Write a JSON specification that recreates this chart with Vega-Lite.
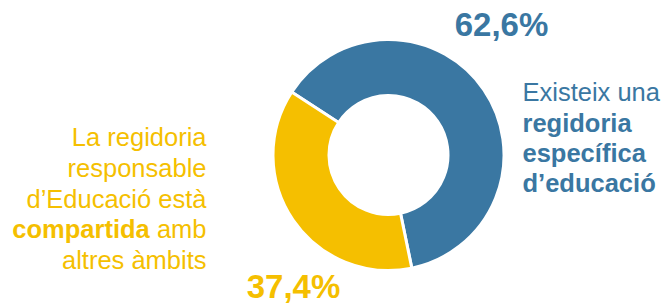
{
  "$schema": "https://vega.github.io/schema/vega-lite/v6.json",
  "width": 557,
  "height": 302,
  "autosize": {"type": "none"},
  "padding": {"left": 110, "top": 4, "right": 0, "bottom": 0},
  "background": "white",
  "config": {"view": {"stroke": null}, "font": "Liberation Sans"},
  "datasets": {
    "dades": [
      {"categoria": "Existeix una regidoria específica d’educació", "valor": 62.6, "pct": "62,6%"},
      {"categoria": "La regidoria responsable d’Educació està compartida amb altres àmbits", "valor": 37.4, "pct": "37,4%"}
    ]
  },
  "data": {"name": "dades"},
  "layer": [
    {
      "mark": {"type": "arc", "innerRadius": 59.5, "outerRadius": 115.5, "stroke": "white", "strokeWidth": 3},
      "encoding": {
        "theta": {"field": "valor", "type": "quantitative", "stack": true, "scale": {"range": [-0.9948, 5.2884]}},
        "color": {
          "field": "categoria", "type": "nominal", "legend": null,
          "scale": {
            "domain": ["Existeix una regidoria específica d’educació", "La regidoria responsable d’Educació està compartida amb altres àmbits"],
            "range": ["#3A77A2", "#F5BF00"]
          }
        },
        "order": {"field": "valor", "type": "quantitative", "sort": "descending"}
      }
    },
    {
      "transform": [{"filter": "datum.valor > 50"}],
      "mark": {"type": "text", "fontSize": 33, "fontWeight": "bold", "align": "center", "baseline": "alphabetic", "dx": 113, "dy": -119},
      "encoding": {
        "text": {"field": "pct", "type": "nominal"},
        "color": {"field": "categoria", "type": "nominal", "legend": null}
      }
    },
    {
      "transform": [{"filter": "datum.valor < 50"}],
      "mark": {"type": "text", "fontSize": 33, "fontWeight": "bold", "align": "center", "baseline": "alphabetic", "dx": -95, "dy": 143},
      "encoding": {
        "text": {"field": "pct", "type": "nominal"},
        "color": {"field": "categoria", "type": "nominal", "legend": null}
      }
    },
    {
      "data": {"values": [{"text": "Existeix una"}]},
      "mark": {"type": "text", "fontSize": 25.5, "align": "left", "baseline": "alphabetic", "dx": 134, "dy": -54, "color": "#3A77A2"},
      "encoding": {"text": {"field": "text", "type": "nominal"}}
    },
    {
      "data": {"values": [{"text": "regidoria\nespecífica\nd’educació"}]},
      "mark": {"type": "text", "fontSize": 25.5, "fontWeight": "bold", "align": "left", "baseline": "alphabetic", "lineBreak": "\n", "lineHeight": 30, "dx": 134, "dy": -23, "color": "#3A77A2"},
      "encoding": {"text": {"field": "text", "type": "nominal"}}
    },
    {
      "data": {"values": [{"text": "La regidoria\nresponsable\nd’Educació està\namb\naltres àmbits"}]},
      "mark": {"type": "text", "fontSize": 25.5, "align": "right", "baseline": "alphabetic", "lineBreak": "\n", "lineHeight": 30.8, "dx": -182, "dy": -9, "color": "#F5BF00"},
      "encoding": {"text": {"field": "text", "type": "nominal"}}
    },
    {
      "data": {"values": [{"text": "compartida"}]},
      "mark": {"type": "text", "fontSize": 25.5, "fontWeight": "bold", "align": "right", "baseline": "alphabetic", "dx": -238.7, "dy": 83.4, "color": "#F5BF00"},
      "encoding": {"text": {"field": "text", "type": "nominal"}}
    }
  ]
}
